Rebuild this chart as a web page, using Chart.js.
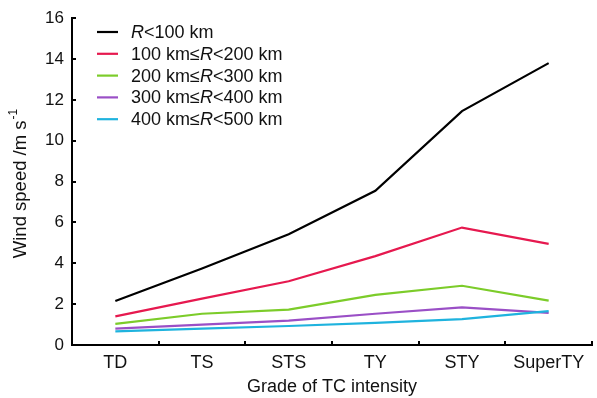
<!DOCTYPE html>
<html>
<head>
<meta charset="utf-8">
<script src="https://cdn.jsdelivr.net/npm/chart.js@4.4.1/dist/chart.umd.min.js"></script>
<style>
html,body{margin:0;padding:0;background:#fff;}
#wrap{width:597px;height:398px;position:relative;}
</style>
</head>
<body>
<div id="wrap"><canvas id="c" width="597" height="398"></canvas></div>
<script>
const categories = ['TD', 'TS', 'STS', 'TY', 'STY', 'SuperTY'];
const seriesLabels = ['R<100 km', '100 km\u2264R<200 km', '200 km\u2264R<300 km', '300 km\u2264R<400 km', '400 km\u2264R<500 km'];
const seriesColors = ['#000000', '#e6194f', '#7ccc2a', '#9a4fc6', '#1fb3de'];
const r0to100 = [2.15, 3.75, 5.42, 7.55, 11.45, 13.8];
const r100to200 = [1.4, 2.27, 3.12, 4.35, 5.75, 4.95];
const r200to300 = [1.03, 1.53, 1.73, 2.45, 2.9, 2.17];
const r300to400 = [0.8, 1.0, 1.19, 1.53, 1.84, 1.57];
const r400to500 = [0.67, 0.8, 0.93, 1.08, 1.27, 1.66];
const yMin = 0, yMax = 16, yStep = 2;
const xTitle = 'Grade of TC intensity';
const yTitle = 'Wind speed /m s';
const yTitleSup = '-1';

const seriesValues = [r0to100, r100to200, r200to300, r300to400, r400to500];
const FONT = '"Liberation Sans", Arial, sans-serif';

const innerTicks = {
  id: 'innerTicks',
  afterDraw(chart) {
    const ctx = chart.ctx, x = chart.scales.x, y = chart.scales.y;
    const a = chart.chartArea;
    ctx.save();
    ctx.strokeStyle = '#000';
    ctx.lineWidth = 2;
    ctx.beginPath();
    y.ticks.forEach(t => {
      const py = Math.round(y.getPixelForValue(t.value));
      ctx.moveTo(a.left, py); ctx.lineTo(a.left + 4, py);
    });
    for (let i = 0; i <= categories.length; i++) {
      const px = Math.round(x.getPixelForValue(i - 0.5));
      ctx.moveTo(px, a.bottom); ctx.lineTo(px, a.bottom - 4);
    }
    ctx.stroke();
    ctx.restore();
  }
};

const legendPlugin = {
  id: 'customLegend',
  afterDraw(chart) {
    const ctx = chart.ctx;
    ctx.save();
    const x0 = 97, x1 = 118, tx = 131, y0 = 32, dy = 21.8;
    seriesLabels.forEach((label, i) => {
      const yy = y0 + i * dy;
      ctx.strokeStyle = seriesColors[i];
      ctx.lineWidth = 2.2;
      ctx.beginPath(); ctx.moveTo(x0, yy); ctx.lineTo(x1, yy); ctx.stroke();
      ctx.fillStyle = '#111';
      ctx.textBaseline = 'middle';
      let cx = tx;
      const parts = label.split('R');
      parts.forEach((p, k) => {
        ctx.font = '18px ' + FONT;
        ctx.fillText(p, cx, yy + 1);
        cx += ctx.measureText(p).width;
        if (k < parts.length - 1) {
          ctx.font = 'italic 18px ' + FONT;
          ctx.fillText('R', cx, yy + 1);
          cx += ctx.measureText('R').width;
        }
      });
    });
    ctx.restore();
  }
};

const yTitlePlugin = {
  id: 'yTitle',
  afterDraw(chart) {
    const ctx = chart.ctx;
    ctx.save();
    ctx.translate(21, 184);
    ctx.rotate(-Math.PI / 2);
    ctx.fillStyle = '#111';
    ctx.textBaseline = 'middle';
    ctx.font = '18.5px ' + FONT;
    const w1 = ctx.measureText(yTitle).width;
    ctx.font = '12px ' + FONT;
    const w2 = ctx.measureText(yTitleSup).width;
    let sx = -(w1 + w2) / 2;
    ctx.font = '18.5px ' + FONT;
    ctx.fillText(yTitle, sx, 0);
    ctx.font = '12px ' + FONT;
    ctx.fillText(yTitleSup, sx + w1 + 1, -7);
    ctx.restore();
  }
};

new Chart(document.getElementById('c'), {
  type: 'line',
  data: {
    labels: categories,
    datasets: seriesValues.map((v, i) => ({
      label: seriesLabels[i],
      data: v,
      borderColor: seriesColors[i],
      backgroundColor: seriesColors[i],
      borderWidth: 2.2,
      pointRadius: 0,
      tension: 0,
      fill: false,
      order: -i
    }))
  },
  plugins: [innerTicks, legendPlugin, yTitlePlugin],
  options: {
    responsive: false,
    animation: false,
    devicePixelRatio: 1,
    layout: { padding: { left: 0, right: 5, top: 18, bottom: 0 } },
    plugins: { legend: { display: false }, tooltip: { enabled: false } },
    scales: {
      x: {
        type: 'category',
        offset: true,
        grid: { display: true, drawOnChartArea: false, drawTicks: false, offset: true, color: 'rgba(0,0,0,0)' },
        border: { display: true, color: '#000', width: 2 },
        ticks: { color: '#111', font: { family: FONT, size: 18 }, padding: 7, maxRotation: 0, autoSkip: false },
        title: { display: true, text: xTitle, color: '#111', font: { family: FONT, size: 18 }, padding: { top: 3, bottom: 0 } },
        afterFit(s) { s.height = 53; }
      },
      y: {
        min: yMin, max: yMax,
        grid: { display: true, drawOnChartArea: false, drawTicks: false, color: 'rgba(0,0,0,0)' },
        border: { display: true, color: '#000', width: 2 },
        ticks: { stepSize: yStep, color: '#111', font: { family: FONT, size: 17 }, padding: 8 },
        afterFit(s) { s.width = 72; }
      }
    }
  }
});
</script>
</body>
</html>
